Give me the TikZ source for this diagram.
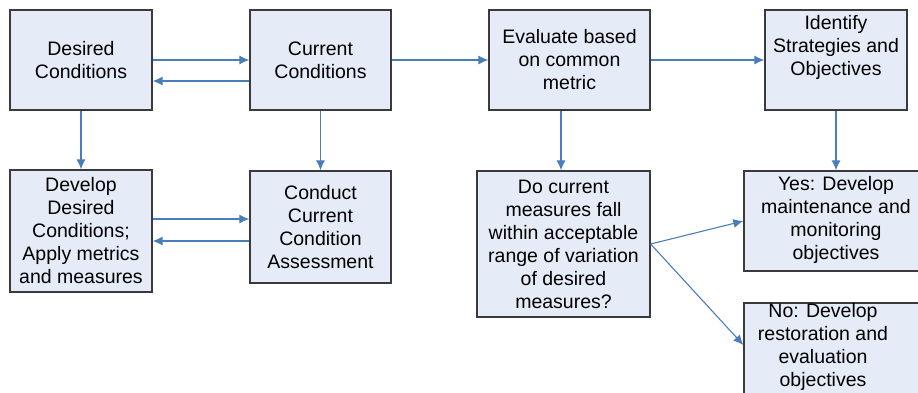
\documentclass[tikz,border=0pt]{standalone}
\usepackage{fontspec}
\setmainfont{Liberation Sans}
\usetikzlibrary{arrows.meta}
\definecolor{boxfill}{HTML}{E6ECF7}
\definecolor{boxline}{HTML}{3A3A3A}
\definecolor{linkblue}{HTML}{4A7EBB}
\begin{document}
\begin{tikzpicture}[x=1pt,y=-1pt,
  box/.style={draw=boxline, line width=1.3pt, fill=boxfill, inner sep=0pt,
    align=center, font=\fontsize{19.5}{23}\selectfont},
  txt/.style={align=center, font=\fontsize{19.5}{23}\selectfont, inner sep=0pt},
  link/.style={draw=linkblue, line width=1.1pt, -{Latex[length=10pt,width=9pt]}}]
\useasboundingbox (0,0) rectangle (918,392);
\clip (0,0) rectangle (918,392);

% upper row
\node[box, minimum width=142pt, minimum height=100pt] (desired) at (81,60) {Desired\\Conditions};
\node[box, minimum width=141pt, minimum height=100pt] (current) at (320.5,60) {Current\\Conditions};
\node[box, minimum width=161pt, minimum height=100pt] (evaluate) at (569.5,60) {Evaluate based\\on common\\metric};
\node[box, minimum width=142pt, minimum height=100pt] (identify) at (836,60) {};
\node[txt] (identifytext) at (836,47) {Identify\\Strategies and\\Objectives};

% lower row
\node[box, minimum width=142pt, minimum height=122pt] (develop) at (81,231) {Develop\\Desired\\Conditions;\\Apply metrics\\and measures};
\node[box, minimum width=141pt, minimum height=112pt] (conduct) at (320.5,227) {Conduct\\Current\\Condition\\Assessment};
\node[box, minimum width=173pt, minimum height=146pt] (question) at (563.5,244) {Do current\\measures fall\\within acceptable\\range of variation\\of desired\\measures?};
\node[box, minimum width=184pt, minimum height=100pt] (yes) at (836,221) {};
\node[txt] (yestext) at (836,220) {Yes: Develop\\maintenance and\\monitoring\\objectives};
\node[box, minimum width=186pt, minimum height=117pt] (no) at (837,361.5) {};
\node[txt] (notext) at (823,347) {No: Develop\\restoration and\\evaluation\\objectives};

% connectors
\draw[link] (desired.east) -- (current.west);
\draw[link] ([yshift=-21pt]current.west) -- ([yshift=-21pt]desired.east);
\draw[link] (current.east) -- (evaluate.west);
\draw[link] (evaluate.east) -- (identify.west);
\draw[link] (desired.south) -- (develop.north);
\draw[link] (current.south) -- (conduct.north);
\draw[link] (develop.east |- 0,219) -- (conduct.west |- 0,219);
\draw[link] (conduct.west |- 0,241) -- (develop.east |- 0,241);
\draw[link] (evaluate.south -| 561,0) -- (question.north -| 561,0);
\draw[link] (identify.south) -- (yes.north);
\draw[link] (question.east) -- (yes.west);
\draw[link] (question.east) -- (no.west |- 0,345);
\end{tikzpicture}
\end{document}
